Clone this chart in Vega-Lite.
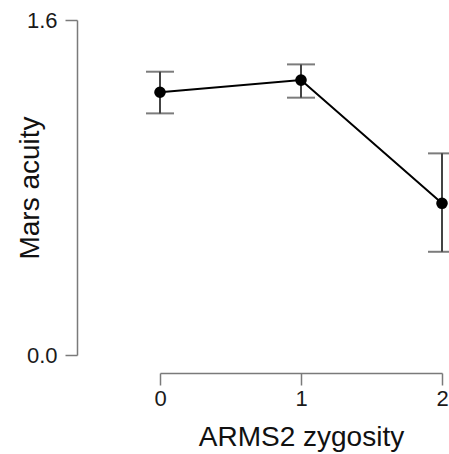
{
  "$schema": "https://vega.github.io/schema/vega-lite/v6.json",
  "autosize": "none",
  "width": 372,
  "height": 335,
  "padding": {"left": 77, "top": 20, "right": 0, "bottom": 99},
  "background": "white",
  "config": {
    "view": {"stroke": null},
    "font": "Liberation Sans",
    "axis": {
      "grid": false,
      "domainColor": "#7a7a7a",
      "domainWidth": 1.5,
      "tickColor": "#7a7a7a",
      "tickWidth": 1.5,
      "tickSize": 12,
      "labelFont": "Liberation Sans",
      "labelFontSize": 22,
      "labelColor": "#1a1a1a",
      "labelOverlap": false,
      "labelFlush": false,
      "titleFont": "Liberation Sans",
      "titleFontSize": 28,
      "titleFontWeight": "normal",
      "titleColor": "#111111"
    }
  },
  "data": {
    "values": [
      {"zygosity": 0, "acuity": 1.255, "lo": 1.154, "hi": 1.353},
      {"zygosity": 1, "acuity": 1.313, "lo": 1.229, "hi": 1.388},
      {"zygosity": 2, "acuity": 0.7245, "lo": 0.493, "hi": 0.963}
    ]
  },
  "encoding": {
    "x": {
      "field": "zygosity",
      "type": "quantitative",
      "scale": {"domain": [0, 2], "range": [83, 365], "nice": false, "zero": false},
      "axis": {
        "title": "ARMS2 zygosity",
        "tickCount": 2,
        "tickMinStep": 1,
        "format": "d",
        "offset": 18,
        "labelPadding": 3,
        "labelBaseline": "top",
        "labelOverlap": false,
        "titleBaseline": "alphabetic",
        "titleY": 72
      }
    }
  },
  "layer": [
    {
      "mark": {"type": "errorbar", "color": "#444444", "thickness": 2, "ticks": {"size": 28, "thickness": 2, "color": "#444444"}},
      "encoding": {
        "y": {
          "field": "lo",
          "type": "quantitative",
          "scale": {"domain": [0, 1.6], "nice": false, "zero": false},
          "axis": {
            "title": "Mars acuity",
            "values": [0, 1.6],
            "format": ".1f",
            "labelPadding": 8,
            "titleAngle": -90,
            "titleBaseline": "alphabetic",
            "titleX": -39,
            "titleY": 167.5
          }
        },
        "y2": {"field": "hi"}
      }
    },
    {
      "mark": {"type": "line", "color": "#000000", "strokeWidth": 2},
      "encoding": {"y": {"field": "acuity", "type": "quantitative"}}
    },
    {
      "mark": {"type": "circle", "color": "#000000", "opacity": 1, "size": 135},
      "encoding": {"y": {"field": "acuity", "type": "quantitative"}}
    }
  ]
}
